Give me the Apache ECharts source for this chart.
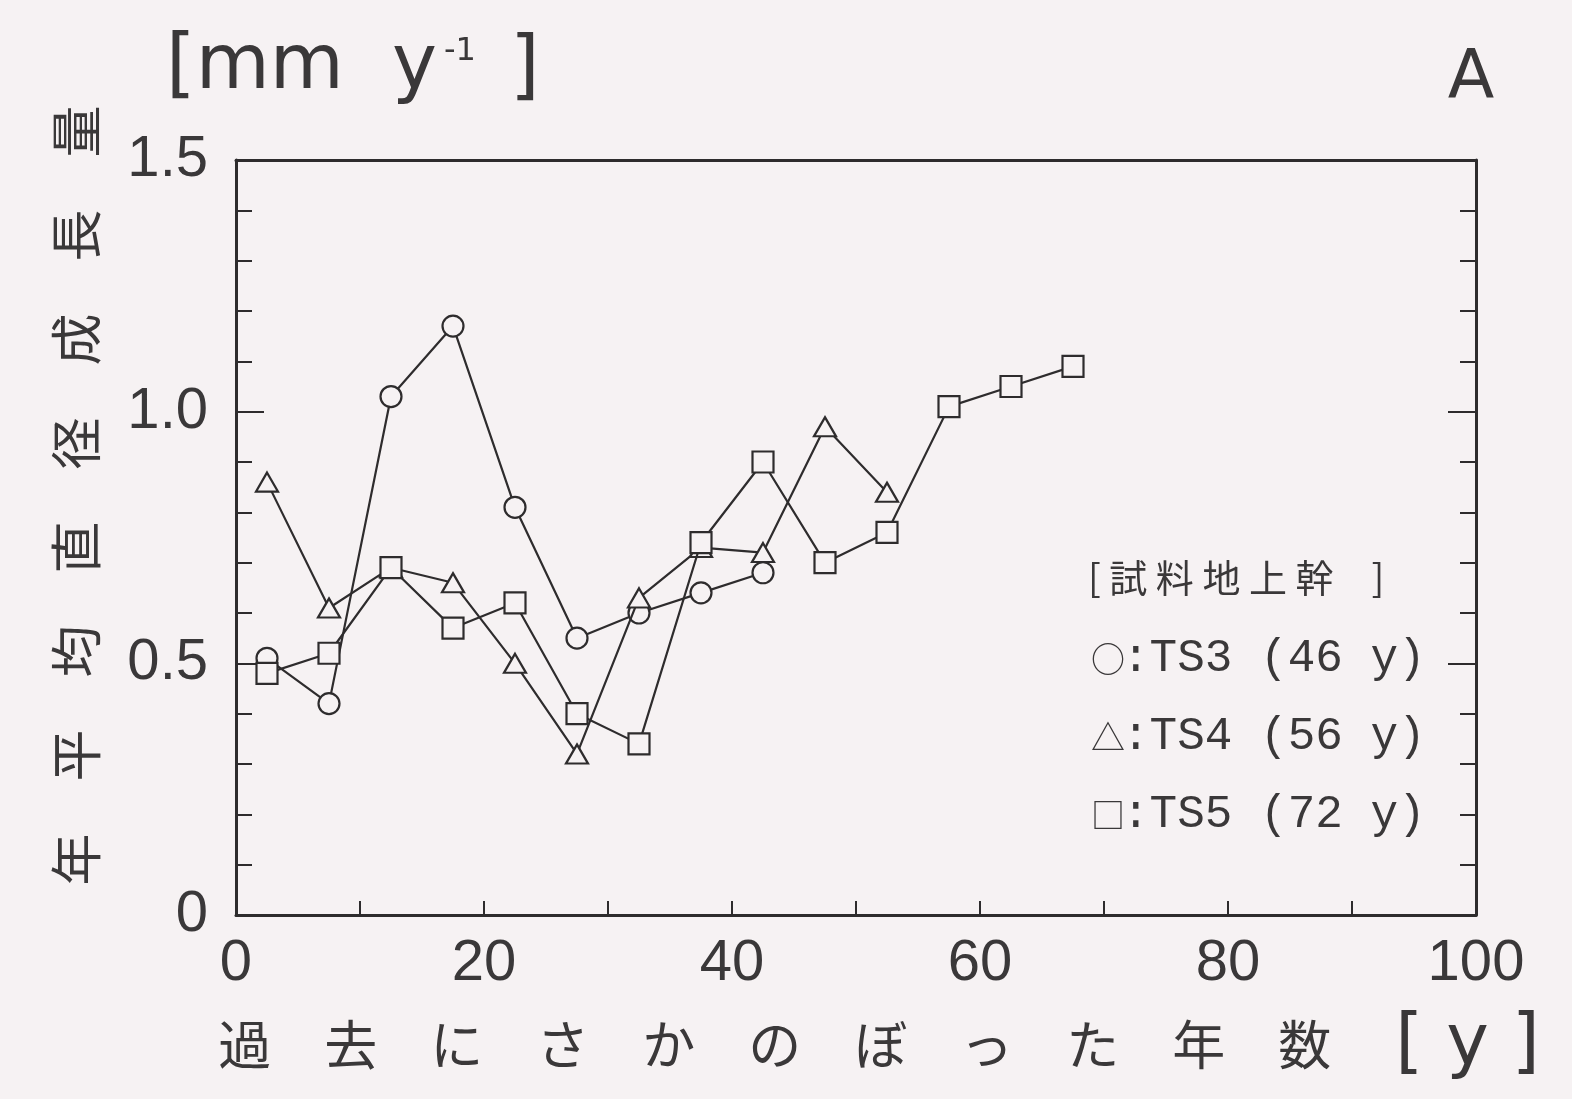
<!DOCTYPE html>
<html>
<head>
<meta charset="utf-8">
<script src="https://cdn.jsdelivr.net/npm/echarts@6/dist/echarts.min.js"></script>
<style>
  html, body { margin: 0; padding: 0; background: #f6f2f3; }
  #chart { width: 1572px; height: 1099px; }
</style>
</head>
<body>
<div id="chart"></div>
<script>
// Years counted back from sampling (5-year class midpoints)
const years = [2.5, 7.5, 12.5, 17.5, 22.5, 27.5, 32.5, 37.5, 42.5, 47.5, 52.5, 57.5, 62.5, 67.5];

// Mean annual diameter growth [mm y^-1] for each stem
const ts3 = [0.51, 0.42, 1.03, 1.17, 0.81, 0.55, 0.60, 0.64, 0.68];
const ts4 = [0.86, 0.61, 0.69, 0.66, 0.50, 0.32, 0.63, 0.73, 0.72, 0.97, 0.84];
const ts5 = [0.48, 0.52, 0.69, 0.57, 0.62, 0.40, 0.34, 0.74, 0.90, 0.70, 0.76, 1.01, 1.05, 1.09];

const seriesNames = ['TS3 (46 y)', 'TS4 (56 y)', 'TS5 (72 y)'];
const seriesSymbols = ['circle', 'triangle', 'rect'];
const legendGlyphs = ['○', '△', '□'];
const legendTitle = '[ 試 料 地 上 幹　]';

const xTickLabels = ['0', '20', '40', '60', '80', '100'];
const yTickLabels = ['0', '0.5', '1.0', '1.5'];

const ink = '#2e2c2d';
const textInk = '#3a3839';
const bg = '#f6f2f3';
const tickFont = '"Liberation Sans", sans-serif';
const sansFont = '"DejaVu Sans", sans-serif';
const cjkFont = '"Noto Sans CJK JP", sans-serif';

function pairs(vals) {
  return vals.map((v, i) => [years[i], v]);
}

const chart = echarts.init(document.getElementById('chart'), null, { renderer: 'canvas' });

const axisLine = { show: true, onZero: false, lineStyle: { color: ink, width: 3 } };

const option = {
  backgroundColor: bg,
  animation: false,
  grid: { left: 236, right: 96, top: 160, bottom: 184, containLabel: false },
  xAxis: [
    {
      type: 'value', min: 0, max: 100, interval: 10, position: 'bottom',
      axisLine: axisLine,
      axisTick: { show: true, inside: true, length: 14, lineStyle: { color: ink, width: 2 } },
      splitLine: { show: false },
      axisLabel: {
        margin: 20, fontSize: 58, fontFamily: tickFont, color: textInk,
        formatter: v => (xTickLabels.indexOf(String(v)) >= 0 ? String(v) : '')
      },
      name: '{jp|過　去　に　さ　か　の　ぼ　っ　た　年　数}{gap|　}{u|[ y ]}',
      nameLocation: 'middle', nameGap: 94,
      nameTextStyle: {
        padding: [0, 0, 0, 46],
        rich: {
          jp: { fontFamily: cjkFont, fontSize: 53, color: textInk },
          gap: { fontFamily: cjkFont, fontSize: 64, color: textInk },
          u: { fontFamily: sansFont, fontSize: 72, color: textInk }
        }
      }
    },
    {
      type: 'value', min: 0, max: 100, position: 'top',
      axisLine: axisLine, axisTick: { show: false }, axisLabel: { show: false }, splitLine: { show: false }
    }
  ],
  yAxis: [
    {
      type: 'value', min: 0, max: 1.5, interval: 0.5, position: 'left',
      axisLine: axisLine,
      axisTick: { show: true, inside: true, length: 28, lineStyle: { color: ink, width: 2 } },
      minorTick: { show: true, splitNumber: 5, length: 16, lineStyle: { color: ink, width: 2 } },
      splitLine: { show: false }, minorSplitLine: { show: false },
      axisLabel: {
        margin: 28, fontSize: 58, fontFamily: tickFont, color: textInk,
        formatter: v => yTickLabels[Math.round(v / 0.5)]
      },
      name: '年　平　均　直　径　成　長　量',
      nameLocation: 'middle', nameRotate: 90, nameGap: 134,
      nameTextStyle: { fontFamily: cjkFont, fontSize: 52, color: textInk, padding: [0, 0, 0, 84] }
    },
    {
      type: 'value', min: 0, max: 1.5, interval: 0.5, position: 'right',
      axisLine: axisLine,
      axisTick: { show: true, inside: true, length: 28, lineStyle: { color: ink, width: 2 } },
      minorTick: { show: true, splitNumber: 5, length: 16, lineStyle: { color: ink, width: 2 } },
      splitLine: { show: false }, minorSplitLine: { show: false },
      axisLabel: { show: false }
    }
  ],
  series: [ts3, ts4, ts5].map((vals, i) => ({
    name: seriesNames[i],
    type: 'line',
    xAxisIndex: 0, yAxisIndex: 0,
    data: pairs(vals),
    symbol: seriesSymbols[i],
    symbolSize: i === 1 ? [22, 19] : 21,
    showAllSymbol: true,
    lineStyle: { color: ink, width: 2.2 },
    itemStyle: { color: bg, borderColor: ink, borderWidth: 2.2 },
    emphasis: { disabled: true },
    z: 3 + i
  })),
  graphic: [
    // unit label above the y axis
    { type: 'text', x: 166, y: 68, style: { text: '[mm  y', fontFamily: sansFont, fontSize: 76, fill: textInk, align: 'left', verticalAlign: 'middle' } },
    { type: 'text', x: 444, y: 52, style: { text: '-1', fontFamily: sansFont, fontSize: 32, fill: textInk, align: 'left', verticalAlign: 'middle' } },
    { type: 'text', x: 510, y: 70, style: { text: ']', fontFamily: sansFont, fontSize: 76, fill: textInk, align: 'left', verticalAlign: 'middle' } },
    // panel letter
    { type: 'text', x: 1471, y: 80, style: { text: 'A', fontFamily: sansFont, fontSize: 68, fill: textInk, align: 'center', verticalAlign: 'middle' } },
    // legend block
    { type: 'text', x: 1088, y: 578, style: { text: legendTitle, fontFamily: cjkFont, fontSize: 38, fill: textInk, align: 'left', verticalAlign: 'middle' } }
  ].concat(seriesNames.flatMap((nm, i) => [
    { type: 'text', x: 1108, y: 659 + i * 78, style: { text: legendGlyphs[i], fontFamily: cjkFont, fontSize: 34, fill: textInk, align: 'center', verticalAlign: 'middle' } },
    { type: 'text', x: 1122, y: 659 + i * 78, style: { text: ':' + nm, fontFamily: '"Liberation Mono", monospace', fontSize: 46, fill: textInk, align: 'left', verticalAlign: 'middle' } }
  ]))
};

chart.setOption(option);
</script>
</body>
</html>
